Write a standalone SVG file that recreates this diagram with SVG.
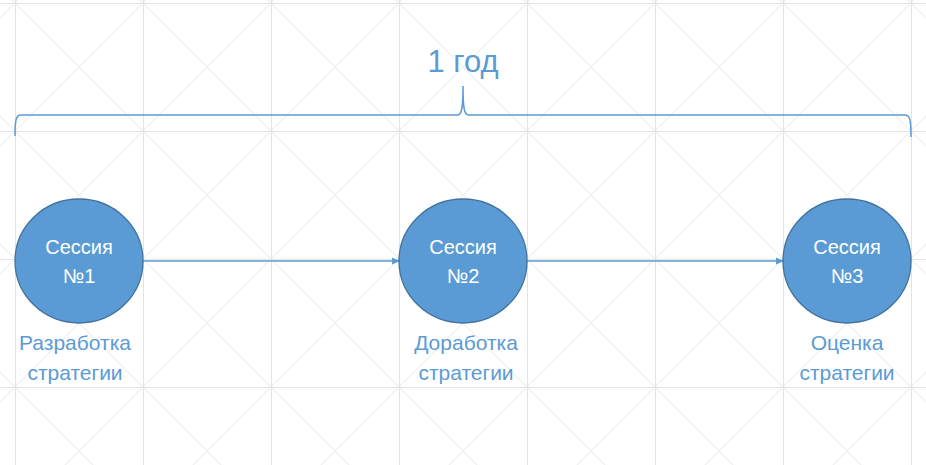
<svg xmlns="http://www.w3.org/2000/svg" width="926" height="465" viewBox="0 0 926 465">
<style>
.node{fill:#5b9bd5;stroke:#41719c;stroke-width:1.3}
.ntext{font-family:"Liberation Sans",Arial,sans-serif;font-size:20px;fill:#ffffff;text-anchor:middle}
.label{font-family:"Liberation Sans",Arial,sans-serif;font-size:21px;fill:#5b9bd5;text-anchor:middle}
.title{font-family:"Liberation Sans",Arial,sans-serif;font-size:31px;fill:#5b9bd5;text-anchor:middle}
.conn{stroke:#5b9bd5;stroke-width:1.5;fill:none}
</style>
<defs>
<pattern id="grid" patternUnits="userSpaceOnUse" x="15" y="3" width="128" height="128">
<path d="M0,0 L128,128 M128,0 L0,128" stroke="#efefef" stroke-width="1.2" fill="none"/>
<path d="M0.5,0 V128 M0,0.5 H128" stroke="#e3e3e3" stroke-width="1.2" fill="none"/>
</pattern>
<marker id="arr" markerWidth="8" markerHeight="8" refX="7" refY="4" orient="auto" markerUnits="userSpaceOnUse">
<path d="M0,0.5 L8,4 L0,7.5 Z" fill="#5b9bd5"/>
</marker>
</defs>
<rect width="926" height="465" fill="#ffffff"/>
<rect width="926" height="465" fill="url(#grid)"/>

<g id="bracket">
<path class="conn" stroke-width="2.2" d="M15,136 C15,120 16,115 21,115 H457 C461,115 463,112 463,86 C463,112 465,115 469,115 H905 C910,115 911,120 911,137"/>
<text class="title" x="463" y="72">1 год</text>
</g>

<g id="connectors">
<line class="conn" x1="143" y1="261" x2="399" y2="261" marker-end="url(#arr)"/>
<line class="conn" x1="527" y1="261" x2="783" y2="261" marker-end="url(#arr)"/>
</g>

<g id="node1">
<ellipse class="node" cx="79" cy="261" rx="64" ry="62"/>
<text class="ntext" x="79" y="254">Сессия</text>
<text class="ntext" x="79" y="283">№1</text>
<text class="label" x="75" y="350">Разработка</text>
<text class="label" x="75" y="380">стратегии</text>
</g>

<g id="node2">
<ellipse class="node" cx="463" cy="261" rx="64" ry="62"/>
<text class="ntext" x="463" y="254">Сессия</text>
<text class="ntext" x="463" y="283">№2</text>
<text class="label" x="466" y="350">Доработка</text>
<text class="label" x="466" y="380">стратегии</text>
</g>

<g id="node3">
<ellipse class="node" cx="847" cy="261" rx="64" ry="62"/>
<text class="ntext" x="847" y="254">Сессия</text>
<text class="ntext" x="847" y="283">№3</text>
<text class="label" x="847" y="350">Оценка</text>
<text class="label" x="847" y="380">стратегии</text>
</g>
</svg>
